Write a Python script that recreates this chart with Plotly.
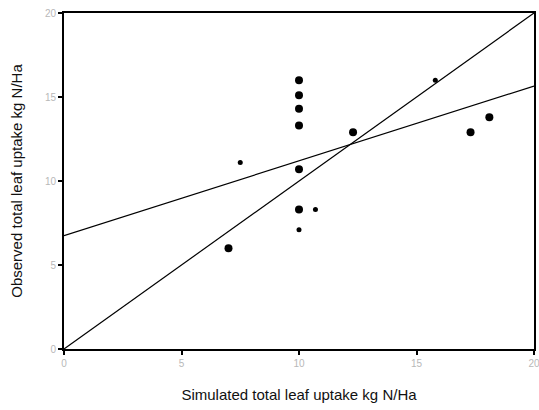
import plotly.graph_objects as go

# Data
big_x = [10, 10, 10, 10, 10, 10, 7.0, 12.3, 17.3, 18.1]
big_y = [16.0, 15.1, 14.3, 13.3, 10.7, 8.3, 6.0, 12.9, 12.9, 13.8]
small_x = [10.0, 10.7, 7.5, 15.8]
small_y = [7.1, 8.3, 11.1, 16.0]
one_to_one_x = [0, 20]
one_to_one_y = [0, 20]
reg_x = [0, 20]
reg_y = [6.75, 15.65]
tick_vals = [0, 5, 10, 15, 20]
tick_text = ["0", "5", "10", "15", "20"]

fig = go.Figure()
fig.add_trace(go.Scatter(x=one_to_one_x, y=one_to_one_y, mode="lines",
                         line=dict(color="black", width=1.2), showlegend=False))
fig.add_trace(go.Scatter(x=reg_x, y=reg_y, mode="lines",
                         line=dict(color="black", width=1.2), showlegend=False))
fig.add_trace(go.Scatter(x=big_x, y=big_y, mode="markers",
                         marker=dict(color="black", size=8, symbol="circle"),
                         showlegend=False))
fig.add_trace(go.Scatter(x=small_x, y=small_y, mode="markers",
                         marker=dict(color="black", size=5, symbol="circle"),
                         showlegend=False))

axis_common = dict(
    range=[0, 20], tickvals=tick_vals, ticktext=tick_text,
    showline=True, linecolor="black", linewidth=2, mirror=True,
    ticks="outside", ticklen=4, tickwidth=2, tickcolor="black",
    showgrid=False, zeroline=False, ticklabeloverflow="allow", automargin=False,
    tickfont=dict(family="Arial, Liberation Sans, sans-serif", size=10, color="#b8b8b8"),
)
title_font = dict(family="Arial, Liberation Sans, sans-serif", size=15, color="#111")

fig.update_layout(
    width=539, height=410,
    margin=dict(l=64, r=5, t=13, b=61),
    paper_bgcolor="white", plot_bgcolor="white",
    xaxis=dict(**axis_common,
               title=dict(text="Simulated total leaf uptake kg N/Ha",
                          font=title_font, standoff=21)),
    yaxis=dict(**axis_common,
               title=dict(text="Observed total leaf uptake kg N/Ha",
                          font=title_font, standoff=19)),
)

fig.write_html(
    "out.html",
    config={"displayModeBar": False},
    post_script=(
        "document.body.style.margin='0';"
        "document.documentElement.style.overflow='hidden';"
        "document.body.style.overflow='hidden';"
    ),
)
